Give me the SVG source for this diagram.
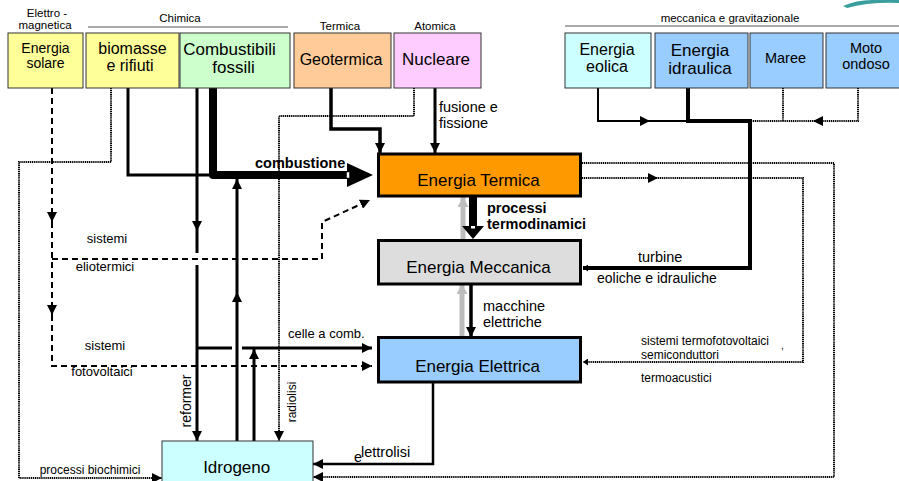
<svg xmlns="http://www.w3.org/2000/svg" width="899" height="481" viewBox="0 0 899 481">
<style>
text{font-family:"Liberation Sans",Arial,sans-serif;fill:#000}
.cat{font-size:11.5px;text-anchor:middle}
.src{stroke:#333;stroke-width:1}
.main{stroke:#000;stroke-width:3}
.mid{text-anchor:middle}
.t17{font-size:17px;text-anchor:middle}
.lbl{font-size:14.5px}
.l13{font-size:13px}
.sm{font-size:12px}
.b{font-weight:bold;font-size:14.5px}
.ln{fill:none;stroke:#000}
.dot{fill:none;stroke:#000;stroke-width:2;stroke-dasharray:1.2 0.7}
.dash{fill:none;stroke:#000;stroke-width:2;stroke-dasharray:6 4}
.gray{fill:none;stroke:#bdbdbd;stroke-width:5}
</style>
<defs>
<marker id="ah" markerUnits="userSpaceOnUse" markerWidth="11" markerHeight="10" refX="10" refY="5" orient="auto"><path d="M0,0 L10,5 L0,10z" fill="#000"/></marker>
<marker id="ahs" markerUnits="userSpaceOnUse" markerWidth="6" markerHeight="7" refX="5" refY="3.5" orient="auto"><path d="M0,0 L5,3.5 L0,7z" fill="#000"/></marker>
<marker id="ahg" markerUnits="userSpaceOnUse" markerWidth="11" markerHeight="11" refX="10" refY="5.5" orient="auto"><path d="M0,0 L10,5.5 L0,11z" fill="#bdbdbd"/></marker>
</defs>
<rect width="899" height="481" fill="#fff"/>
<!-- corner ornament -->
<path d="M843,6 Q856,0 872,0 L899,0 L899,3 Q868,2 847,8 Z" fill="#3a9e9e"/>

<!-- category headers -->
<g id="categories">
<text class="cat" x="47" y="17">Elettro -</text>
<text class="cat" x="45" y="29">magnetica</text>
<text class="cat" x="180" y="22">Chimica</text>
<line x1="88" y1="27" x2="288" y2="27" stroke="#555" stroke-width="1"/>
<text class="cat" x="340" y="30">Termica</text>
<text class="cat" x="435" y="30">Atomica</text>
<text class="cat" x="730" y="22">meccanica e gravitazionale</text>
<line x1="565" y1="26" x2="899" y2="26" stroke="#555" stroke-width="1"/>
</g>

<!-- connectors -->
<g id="connectors">
<!-- solar: eliothermal and photovoltaic -->
<path class="dash" d="M52,88 V222" marker-end="url(#ah)"/>
<path class="dash" d="M52,222 V315" marker-end="url(#ah)"/>
<path class="dash" d="M52,315 V366 H372" marker-end="url(#ah)"/>
<path class="dash" d="M52,259 H322 V222 L370,200" marker-end="url(#ah)"/>
<!-- biomass: biochemical processes -->
<path class="dot" d="M111,88 V162 H19 V478 H162" marker-end="url(#ah)"/>
<!-- reformer -->
<path class="ln" stroke-width="3" d="M197,88 V231" marker-end="url(#ah)"/>
<path class="ln" stroke-width="3" d="M197,231 V253"/>
<path class="ln" stroke-width="3" d="M197,265 V441" marker-end="url(#ah)"/>
<!-- hydrogen combustion -->
<path class="ln" stroke-width="3" d="M237,441 V292" marker-end="url(#ah)"/>
<path class="ln" stroke-width="3" d="M237,292 V179" marker-end="url(#ah)"/>
<!-- fuel cells -->
<path class="ln" stroke-width="3" d="M254,441 V349" marker-end="url(#ah)"/>
<path class="ln" stroke-width="3" d="M198,348 H232"/>
<path class="ln" stroke-width="3" d="M242,348 H372" marker-end="url(#ah)"/>
<!-- nuclear: radiolysis -->
<path class="dot" d="M414,88 V116 H279 V441" marker-end="url(#ah)"/>
<!-- biomass and fossil fuels: combustion -->
<path class="ln" stroke-width="3" d="M128,88 V175 H212"/>
<path d="M213,88 V175 H348" fill="none" stroke="#000" stroke-width="8" stroke-linejoin="round"/>
<polygon points="347,163 373,175 347,187" fill="#000"/>
<rect x="346.5" y="172" width="3" height="6" fill="#fff" stroke="#000" stroke-width="0.5"/>
<!-- geothermal -->
<path class="ln" stroke-width="3.5" d="M331,88 V129 H380 V153" marker-end="url(#ah)"/>
<!-- fusion and fission -->
<path class="ln" stroke-width="3" d="M435,88 V153" marker-end="url(#ah)"/>
<!-- thermal / mechanical -->
<path class="gray" d="M463,240 V197" marker-end="url(#ahg)"/>
<path d="M473,196 V227" stroke="#000" stroke-width="8"/>
<polygon points="462,226 484,226 473,239" fill="#000"/>
<rect x="471" y="226" width="4" height="2.5" fill="#fff"/>
<!-- mechanical / electric -->
<path class="gray" d="M462,337 V284" marker-end="url(#ahg)"/>
<path class="ln" stroke-width="3.5" d="M471,284 V337" marker-end="url(#ah)"/>
<!-- wind, hydro, tides, waves -->
<path class="ln" stroke-width="2" d="M598,88 V121 H650" marker-end="url(#ah)"/>
<path class="ln" stroke-width="2" d="M650,121 H688"/>
<path class="dot" d="M783,88 V121"/>
<path class="dot" d="M858,88 V121 H813" marker-end="url(#ah)"/>
<path class="dot" d="M813,121 H751"/>
<path class="ln" stroke-width="4" d="M688,88 V121 H750 V268 H583" marker-end="url(#ahs)" stroke-linejoin="miter"/>
<!-- thermal outputs -->
<path class="dot" d="M582,163 H834 V477 H313" marker-end="url(#ah)"/>
<path class="dot" d="M582,178 H658" marker-end="url(#ah)"/>
<path class="dot" d="M658,178 H803 V362 H583" marker-end="url(#ahs)"/>
<!-- electrolysis -->
<path class="ln" stroke-width="2.5" d="M433,382 V464 H313" marker-end="url(#ah)"/>
</g>

<!-- source nodes -->
<g id="solare">
<rect class="src" x="8" y="33" width="75" height="55" fill="#ffff99"/>
<text x="45.5" y="53" font-size="14" class="mid">Energia</text>
<text x="45.5" y="68" font-size="14" class="mid">solare</text>
</g>
<g id="biomasse">
<rect class="src" x="86" y="33" width="93" height="55" fill="#ffff99"/>
<text x="132.5" y="54" font-size="16" class="mid">biomasse</text>
<text x="130" y="71" font-size="16" class="mid">e rifiuti</text>
</g>
<g id="fossili">
<rect class="src" x="180" y="33" width="110" height="55" fill="#ccffcc"/>
<text x="229.5" y="55" class="t17">Combustibili</text>
<text x="233.5" y="73" class="t17">fossili</text>
</g>
<g id="geotermica">
<rect class="src" x="294" y="33" width="97" height="55" fill="#ffcc99"/>
<text x="341" y="65" font-size="16" class="mid">Geotermica</text>
</g>
<g id="nucleare">
<rect class="src" x="394" y="33" width="87" height="55" fill="#ffccff"/>
<text x="436" y="65" class="t17">Nucleare</text>
</g>
<g id="eolica">
<rect class="src" x="565" y="33" width="86" height="55" fill="#ccffff"/>
<text x="607" y="55" font-size="16" class="mid">Energia</text>
<text x="607" y="72" font-size="16" class="mid">eolica</text>
</g>
<g id="idraulica">
<rect class="src" x="655" y="33" width="93" height="55" fill="#99ccff"/>
<text x="700" y="56" class="t17">Energia</text>
<text x="700" y="74" class="t17">idraulica</text>
</g>
<g id="maree">
<rect class="src" x="750" y="33" width="73" height="55" fill="#99ccff"/>
<text x="785.5" y="63" font-size="14.5" class="mid">Maree</text>
</g>
<g id="moto-ondoso">
<rect class="src" x="826" y="33" width="80" height="55" fill="#99ccff"/>
<text x="866" y="53" font-size="14.5" class="mid">Moto</text>
<text x="866" y="69" font-size="14.5" class="mid">ondoso</text>
</g>

<!-- energy forms -->
<g id="termica">
<rect class="main" x="378.5" y="154" width="202" height="42" fill="#ff9900"/>
<text x="478.5" y="186" class="t17">Energia Termica</text>
</g>
<g id="meccanica">
<rect class="main" x="378.5" y="240.5" width="202" height="43.5" fill="#dddddd"/>
<text x="478.5" y="273" class="t17">Energia Meccanica</text>
</g>
<g id="elettrica">
<rect class="main" x="378.5" y="337.5" width="202" height="44.5" fill="#99ccff"/>
<text x="477.5" y="372" class="t17">Energia Elettrica</text>
</g>
<g id="idrogeno">
<rect class="src" x="162" y="441" width="151" height="50" fill="#ccffff"/>
<text x="236.7" y="473" class="t17">Idrogeno</text>
</g>

<!-- process labels -->
<g id="labels">
<text class="b" x="255" y="168">combustione</text>
<text class="lbl" x="439" y="112">fusione e</text>
<text class="lbl" x="439" y="128">fissione</text>
<text class="b" x="487" y="213">processi</text>
<text class="b" x="487" y="229">termodinamici</text>
<text class="lbl" x="483" y="311">macchine</text>
<text class="lbl" x="483" y="327">elettriche</text>
<text class="lbl" x="638" y="262">turbine</text>
<text x="597" y="283" font-size="14">eoliche e idrauliche</text>
<text class="l13 mid" x="107" y="243">sistemi</text>
<text class="l13 mid" x="105" y="271">eliotermici</text>
<text class="l13 mid" x="105" y="350">sistemi</text>
<text class="l13 mid" x="102" y="376">fotovoltaici</text>
<text class="l13" x="288" y="338">celle a comb.</text>
<text font-size="14" class="mid" transform="translate(191,401) rotate(-90)">reformer</text>
<text class="sm mid" transform="translate(296,402) rotate(-90)">radiolisi</text>
<text class="sm mid" x="90" y="474">processi biochimici</text>
<text class="sm" x="641" y="345">sistemi termofotovoltaici</text>
<text class="sm" x="641" y="359">semiconduttori</text>
<text class="sm" x="641" y="382">termoacustici</text>
<text font-size="10" x="781" y="349">,</text>
<text class="lbl" x="354" y="462">e</text>
<text class="lbl" x="361" y="457">lettrolisi</text>
</g>
</svg>
